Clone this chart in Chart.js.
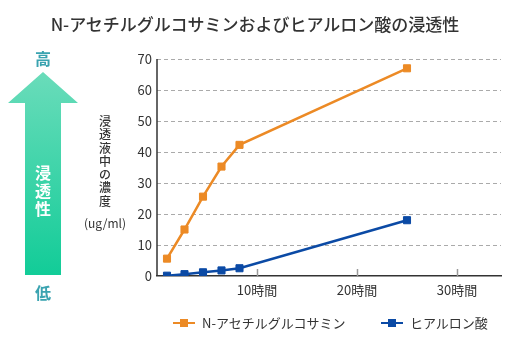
<!DOCTYPE html>
<html>
<head>
<meta charset="utf-8">
<script src="https://cdn.jsdelivr.net/npm/chart.js@4"></script>
<style>
  html, body { margin: 0; padding: 0; background: #fff; }
  #wrap { position: relative; width: 510px; height: 350px; overflow: hidden; font-family: "Noto Sans CJK JP", "Noto Sans", sans-serif; color: #333; }
  #chart { position: absolute; left: 0; top: 0; }
  .title { position: absolute; left: 0; top: 11px; width: 510px; text-align: center; font-size: 17px; font-weight: 500; color: #333; }
  .arrow { position: absolute; left: 8px; top: 72px; width: 70px; height: 203px;
           background: linear-gradient(#6adcba, #12cc98);
           clip-path: polygon(35px 0, 70px 31px, 53px 31px, 53px 203px, 17px 203px, 17px 31px, 0 31px); }
  .arrowText { position: absolute; left: 31px; top: 163px; width: 24px; color: #fff; font-size: 16px; font-weight: bold; line-height: 18px; text-align: center; }
  .hl { position: absolute; left: 31px; width: 24px; text-align: center; color: #3aa3b0; font-size: 16px; font-weight: bold; }
  .ylab { position: absolute; left: 96px; top: 114px; width: 18px; text-align: center; font-size: 12px; line-height: 13.3px; font-weight: 500; color: #333; }
  .unit { position: absolute; left: 80px; top: 214px; width: 50px; text-align: center; font-size: 12px; color: #333; }
  .legend { position: absolute; top: 313px; font-size: 13px; color: #333; white-space: nowrap; }
  .legend .ln { display: inline-block; position: relative; width: 22px; height: 2px; vertical-align: middle; margin-right: 7px; top: -1px; }
  .legend .ln i { position: absolute; left: 7px; top: -3px; width: 8px; height: 8px; }
</style>
</head>
<body>
<div id="wrap">
  <canvas id="chart" width="510" height="350"></canvas>
  <div class="title">N-アセチルグルコサミンおよびヒアルロン酸の浸透性</div>
  <div class="hl" style="top:46px">高</div>
  <div class="arrow"></div>
  <div class="arrowText">浸<br>透<br>性</div>
  <div class="hl" style="top:280px">低</div>
  <div class="ylab">浸<br>透<br>液<br>中<br>の<br>濃<br>度</div>
  <div class="unit">(ug/ml)</div>
  <div class="legend" style="left:173px"><span class="ln" style="background:#ec8a25"><i style="background:#ec8a25"></i></span>N-アセチルグルコサミン</div>
  <div class="legend" style="left:381px"><span class="ln" style="background:#0b4aa5"><i style="background:#0b4aa5"></i></span>ヒアルロン酸</div>
</div>
<script>
// 時間 (h)
const hours = [1, 2.75, 4.6, 6.45, 8.25, 25];
// N-アセチルグルコサミン (ug/ml)
const glcnac = [5.6, 15.0, 25.6, 35.3, 42.3, 67.0];
// ヒアルロン酸 (ug/ml)
const hyaluronic = [0.1, 0.6, 1.2, 1.8, 2.5, 18.0];
const xTickValues = [10, 20, 30];
const yTickMax = 70;

const orange = '#ec8a25';
const blue = '#0b4aa5';

// y軸の線と x軸の目盛り(上向きの短い線)
const axisExtras = {
    id: 'axisExtras',
    afterDatasetsDraw(chart) {
        const c = chart.ctx;
        const x = chart.scales.x;
        const area = chart.chartArea;
        c.save();
        c.strokeStyle = '#999';
        c.lineWidth = 1.5;
        xTickValues.forEach(v => {
            const px = Math.round(x.getPixelForValue(v)) + 0.5;
            c.beginPath();
            c.moveTo(px, area.bottom);
            c.lineTo(px, area.bottom - 7);
            c.stroke();
        });
        c.strokeStyle = '#333';
        c.lineWidth = 1.5;
        c.beginPath();
        c.moveTo(area.left, area.top);
        c.lineTo(area.left, area.bottom);
        c.stroke();
        c.restore();
    }
};

function series(label, values, color) {
    return {
        label: label,
        data: hours.map((h, i) => ({ x: h, y: values[i] })),
        borderColor: color,
        backgroundColor: color,
        borderWidth: 2.5,
        pointStyle: 'rect',
        pointRadius: 5,
        pointBorderWidth: 1,
        pointBorderColor: color,
        tension: 0
    };
}

const ctx = document.getElementById('chart').getContext('2d');
new Chart(ctx, {
    type: 'line',
    data: {
        datasets: [
            series('N-アセチルグルコサミン', glcnac, orange),
            series('ヒアルロン酸', hyaluronic, blue)
        ]
    },
    options: {
        responsive: false,
        animation: false,
        layout: { padding: { left: 120, right: 9, top: 59, bottom: 44 } },
        plugins: { legend: { display: false }, tooltip: { enabled: false } },
        scales: {
            x: {
                type: 'linear',
                min: 0,
                max: 34.4,
                afterBuildTicks: function (scale) {
                    scale.ticks = xTickValues.map(v => ({ value: v }));
                },
                afterFit: function (scale) { scale.height = 30; },
                grid: { display: false, drawTicks: false },
                border: { color: '#333', width: 1.5 },
                ticks: {
                    padding: 6,
                    color: '#333',
                    font: { family: '"Noto Sans CJK JP", sans-serif', size: 13 },
                    callback: v => v + '時間'
                }
            },
            y: {
                min: 0,
                max: yTickMax,
                afterFit: function (scale) { scale.width = 37; },
                grid: {
                    color: c => c.tick.value === 0 ? 'rgba(0,0,0,0)' : '#aaa',
                    lineWidth: 1,
                    drawTicks: false
                },
                border: { display: false, dash: [4, 3] },
                ticks: {
                    stepSize: 10,
                    padding: 5,
                    color: '#333',
                    font: { family: '"Noto Sans CJK JP", sans-serif', size: 13 }
                }
            }
        }
    },
    plugins: [axisExtras]
});
</script>
</body>
</html>
